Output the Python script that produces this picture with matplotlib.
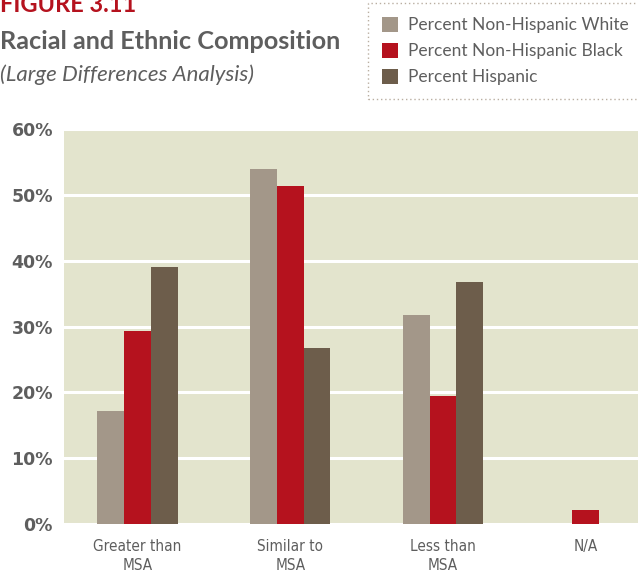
import matplotlib
matplotlib.use("Agg")
import matplotlib.pyplot as plt
import numpy as np
from matplotlib.patches import Patch

categories = ["Greater than\nMSA", "Similar to\nMSA", "Less than\nMSA", "N/A"]
series_names = ["Percent Non-Hispanic White", "Percent Non-Hispanic Black", "Percent Hispanic"]
white = [17.1, 53.9, 31.8, 0.0]
black = [29.3, 51.4, 19.5, 2.2]
hispanic = [39.1, 26.8, 36.7, 0.0]
yticks = [0, 10, 20, 30, 40, 50, 60]
ytick_labels = ["0%", "10%", "20%", "30%", "40%", "50%", "60%"]

colors = ["#a39789", "#b5121e", "#6d5d4b"]
bg = "#e3e4cd"
gray = "#5e5e5e"

W, H = 638, 574
fig = plt.figure(figsize=(W / 100, H / 100), dpi=100)
ax = fig.add_axes([64 / W, 1 - 524 / H, (638 - 64) / W, (524 - 129) / H])
ax.set_facecolor(bg)

group_x = np.array([0, 1, 2, 2.935])
bw = 0.175
for i, (vals, c) in enumerate(zip([white, black, hispanic], colors)):
    ax.bar(group_x + (i - 1) * bw, vals, width=bw, color=c, zorder=3, linewidth=0)

ax.set_ylim(0, 60)
ax.set_xlim(-0.481, 3.277)
ax.set_yticks(yticks)
ax.set_yticklabels(ytick_labels, fontfamily="DejaVu Sans", fontweight="bold", fontsize=12.5, color=gray)
ax.set_xticks(group_x)
ax.set_xticklabels(categories, fontfamily="DejaVu Sans", fontstretch="condensed", fontsize=11,
                   color=gray, linespacing=1.35)
ax.tick_params(axis="both", length=0)
ax.tick_params(axis="y", pad=8)
ax.tick_params(axis="x", pad=11)
ax.yaxis.grid(True, color="white", linewidth=2.2, zorder=1)
ax.set_axisbelow(True)
for s in ax.spines.values():
    s.set_visible(False)

fig.text(0 / W, 1 - 12 / H, "FIGURE 3.11", fontfamily="Lato", fontweight="bold", fontsize=17,
         color="#b5121e", ha="left", va="baseline")
fig.text(0 / W, 1 - 49 / H, "Racial and Ethnic Composition", fontfamily="Lato", fontweight="bold",
         fontsize=18.2, color=gray, ha="left", va="baseline")
fig.text(0 / W, 1 - 81 / H, "(Large Differences Analysis)", fontfamily="Lato", fontstyle="italic",
         fontsize=16, color=gray, ha="left", va="baseline")

handles = [Patch(facecolor=c, edgecolor="none") for c in colors]
leg = fig.legend(handles, series_names, loc="upper left", bbox_to_anchor=(368 / W, 1 - 3 / H),
                 borderaxespad=0, frameon=True, fancybox=False, handlelength=0.95, handleheight=0.95,
                 handletextpad=0.55, labelspacing=0.55, borderpad=0.8,
                 prop={"family": "Lato", "size": 12.5})
for t in leg.get_texts():
    t.set_color(gray)
fr = leg.get_frame()
fr.set_edgecolor("#a89a8a")
fr.set_linestyle((0, (1, 2)))
fr.set_linewidth(1.0)

fig.savefig("out.png", dpi=100, facecolor="white")
